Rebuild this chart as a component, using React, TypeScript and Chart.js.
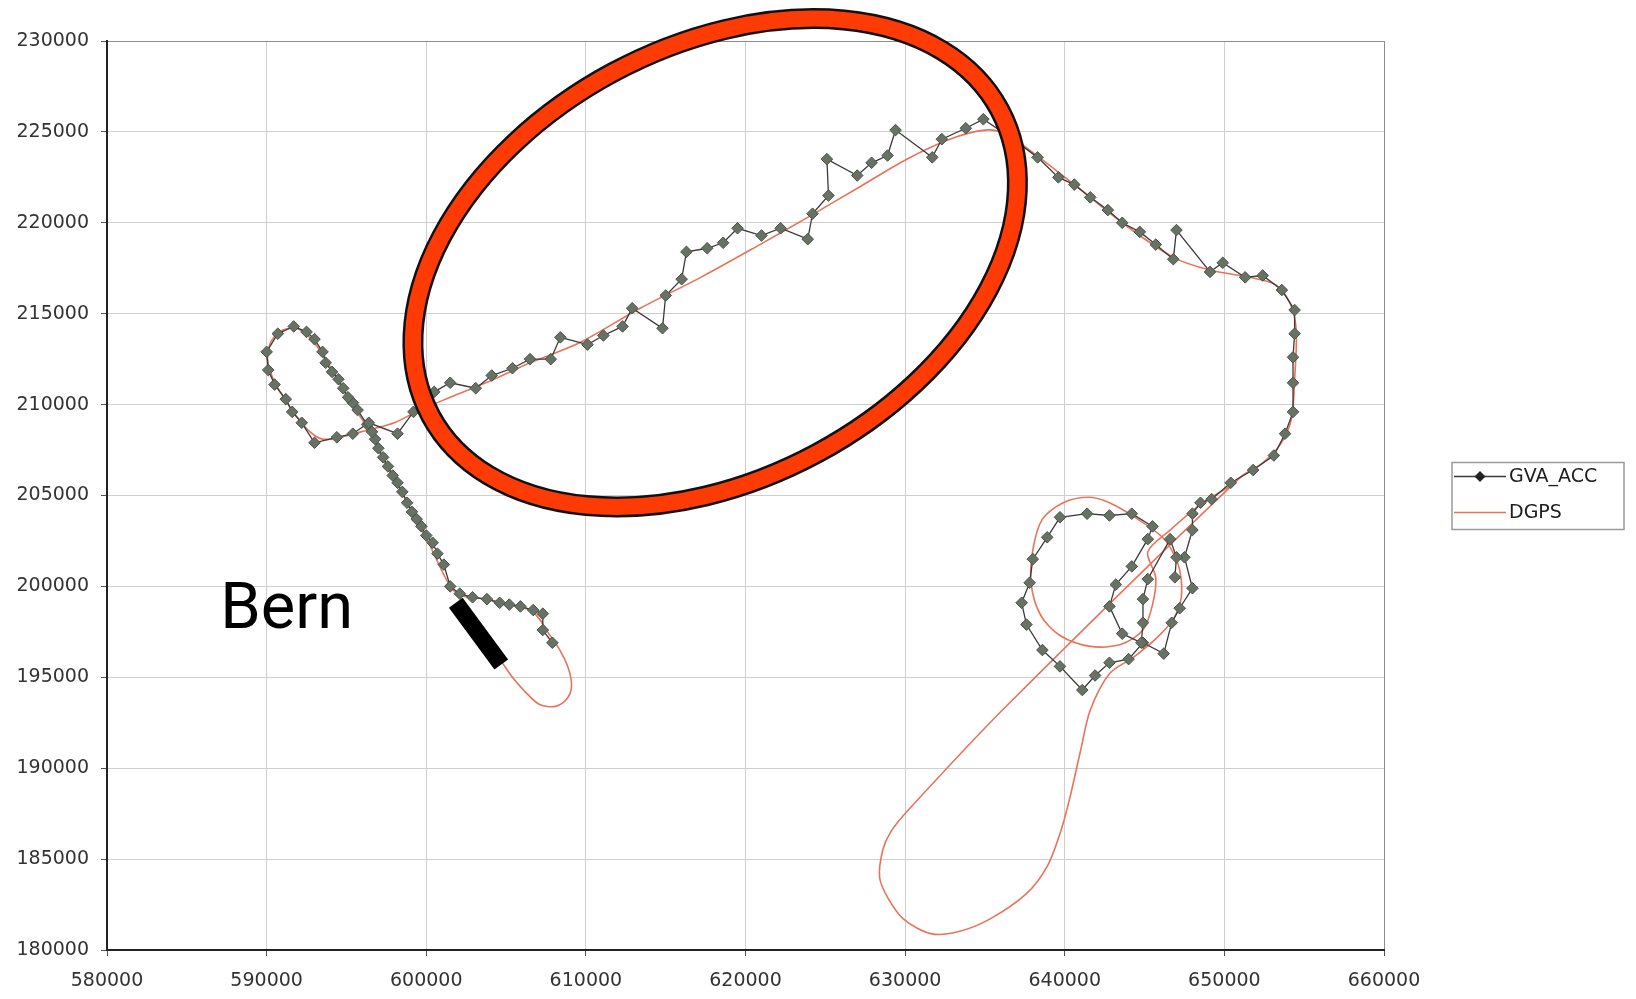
import { useEffect, useRef } from "react";
import { Chart, registerables } from "chart.js";

Chart.register(...registerables);

// ---------- data (Swiss grid coordinates, metres) ----------
const SERIES_NAMES = ["GVA_ACC", "DGPS"];

const GVA_X = [607900, 607300, 607300, 606700, 605900, 605200, 604600, 603800, 602900, 602100, 601500,
  601100, 600700, 600400, 600000, 599700, 599400, 599100, 598800, 598500, 598200, 597900, 597600, 597300, 597000, 596800, 596600, 596300,
  595700, 595400, 595100, 594800, 594500, 594100, 593700, 593500, 593000, 592500, 591700, 590700, 590000, 590100, 590500, 591200, 591600, 592200, 593000, 594400, 595400, 596400,
  598200, 599200, 600500, 601500, 603100, 604100, 605400, 606500, 607800, 608400, 610100, 611100, 612300, 612900, 614800, 615000, 616000, 616300, 617600, 618600, 619500, 621000, 622200, 623900, 624200, 625200, 625100, 627000, 627900, 628900, 629400, 631700, 632300, 633800, 634900,
  636600, 638300, 639600, 640600, 641600, 642700, 643600, 644700, 645700, 646800, 647000, 649100, 649900, 651300, 652400, 653600, 654400, 654400, 654300, 654300, 654300, 653800, 653100, 651800,
  650400, 649200, 648500, 648000, 648000, 647500, 648000, 647200, 646700, 646200, 644900, 644000, 642800, 641900, 641100, 639700, 638600, 637600, 637300, 637800, 638000, 638900, 639700, 641400, 642800, 644200, 645500, 645200, 644200, 643200, 642800, 643600, 644800, 644900, 644900, 645200, 646600, 647000, 646900];

const GVA_Y = [196900, 197600, 198500, 198700, 198900, 199000, 199100, 199300, 199400, 199600, 200000,
  201200, 201800, 202400, 202800, 203300, 203700, 204100, 204600, 205200, 205700, 206100, 206600, 207100, 207600, 208100, 208500, 208900,
  209700, 210100, 210400, 210900, 211400, 211800, 212300, 212900, 213600, 214000, 214300, 213900, 212900, 211900, 211100, 210300, 209600, 209000, 207900, 208200, 208400, 209000,
  208400, 209600, 210700, 211200, 210900, 211600, 212000, 212500, 212500, 213700, 213300, 213800, 214300, 215300, 214200, 216000, 216900, 218400, 218600, 218900, 219700, 219300, 219700, 219100, 220500, 221500, 223500, 222600, 223300, 223700, 225100, 223600, 224600, 225200, 225700,
  224700, 223600, 222500, 222100, 221400, 220700, 220000, 219500, 218800, 218000, 219600, 217300, 217800, 217000, 217100, 216300, 215200, 213900, 212600, 211200, 209600, 208400, 207200, 206400,
  205700, 204800, 204600, 204000, 203100, 201600, 199900, 198800, 198000, 196300, 196900, 196000, 195800, 195100, 194300, 195600, 196500, 197900, 199100, 200200, 201500, 202700, 203800, 204000, 203900, 204000, 203300, 202600, 201100, 200100, 198900, 197400, 196900, 198000, 199300, 200400, 202600, 201600, 200500];

const DGPS_X = [602400, 604600, 605400, 606200, 607100, 608100, 608800, 609100, 608900, 608300,
  607600, 607100, 606500, 605200, 603700, 602200, 601500, 600200, 598700, 597400,
  596500, 595500, 594600, 593700, 592700, 591800, 590800, 590200, 590100, 590700,
  591600, 592600, 593500, 594600, 595900, 596800, 598000, 599600, 601500, 604000,
  606500, 609600, 613400, 617200, 620900, 623900, 627200, 630100, 632800, 635000,
  636300, 637800, 640600, 643600, 646800, 649100, 651600, 653200, 654100, 654500,
  654400, 654200, 653500, 652400, 651000, 636100, 630200, 629100, 628600, 628400,
  628900, 629900, 631600, 633300, 635300, 637600, 638900, 639700, 640300, 641000,
  641600, 642800, 644300, 645800, 646800, 647300, 647200, 646700, 646000, 644400,
  642800, 641500, 639900, 638600, 638000, 637900, 638500, 639700, 641600, 643500,
  644900, 645500, 645700, 645200, 646600, 648500, 650700];

const DGPS_Y = [198600, 196000, 195000, 194200, 193500, 193400, 193800, 194500, 195500, 196600,
  197500, 198200, 198700, 199000, 199300, 199500, 200000, 202300, 204800, 206800,
  208500, 209800, 211100, 212500, 213700, 214200, 214000, 213300, 212200, 210900,
  209700, 208600, 208100, 208200, 208500, 208700, 209000, 209700, 210400, 211300,
  212300, 213400, 215300, 217000, 218800, 220300, 222000, 223500, 224600, 225100,
  224900, 224000, 222100, 220000, 218100, 217400, 217000, 216600, 215600, 214100,
  211400, 209200, 207800, 206800, 206000, 193200, 187700, 186500, 185500, 184000,
  182900, 181700, 180900, 181000, 181700, 183100, 184600, 186400, 188300, 191000,
  193200, 195200, 196100, 197200, 198200, 199400, 200900, 202000, 202800, 203800,
  204600, 204900, 204600, 203700, 202000, 200100, 198400, 197300, 196700, 196800,
  197600, 199000, 200500, 201900, 203100, 204500, 205700];

const X_MIN = 580000;
const X_MAX = 660000;
const X_STEP = 10000;
const Y_MIN = 180000;
const Y_MAX = 230000;
const Y_STEP = 5000;

// annotation anchors (data coordinates)
const ELLIPSE_CENTER = [618100, 217800];
const BAR_START = [601850, 199100];
const BAR_END = [604700, 195700];
const LABEL_TEXT = "Bern";
const LABEL_POS = [587100, 197700];

// ---------- styles ----------
const GVA_LINE = "#3a3a3a";
const GVA_FILL = "#687264";
const GVA_EDGE = "#4a5348";
const DGPS_LINE = "#e8735a";
const GRID = "#cfcfcf";
const EDGE_GRID = "#8c8c8c";
const AXIS = "#222222";
const TICK_FONT = "DejaVu Sans";

const overlayPlugin = {
  id: "overlay",
  afterDraw(chart: any) {
    const { ctx, chartArea, scales } = chart;
    const xs = scales.x;
    const ys = scales.y;
    ctx.save();

    // ellipse annotation
    const cx = xs.getPixelForValue(ELLIPSE_CENTER[0]);
    const cy = ys.getPixelForValue(ELLIPSE_CENTER[1]);
    ctx.beginPath();
    ctx.ellipse(cx, cy, 323, 216, (-28.3 * Math.PI) / 180, 0, Math.PI * 2);
    ctx.strokeStyle = "#111111";
    ctx.lineWidth = 21;
    ctx.stroke();
    ctx.strokeStyle = "#ff3b05";
    ctx.lineWidth = 16;
    ctx.stroke();

    // black bar
    ctx.beginPath();
    ctx.moveTo(xs.getPixelForValue(BAR_START[0]), ys.getPixelForValue(BAR_START[1]));
    ctx.lineTo(xs.getPixelForValue(BAR_END[0]), ys.getPixelForValue(BAR_END[1]));
    ctx.strokeStyle = "#000000";
    ctx.lineWidth = 17;
    ctx.lineCap = "butt";
    ctx.stroke();

    // label
    ctx.font = "65px Roboto";
    ctx.fillStyle = "#000000";
    ctx.textBaseline = "alphabetic";
    ctx.textAlign = "left";
    ctx.fillText(LABEL_TEXT, xs.getPixelForValue(LABEL_POS[0]), ys.getPixelForValue(LABEL_POS[1]));

    // legend box
    const left = chartArea.right + 68;
    const top = (chartArea.top + chartArea.bottom) / 2 - 33;
    const w = 172;
    const h = 67;
    ctx.fillStyle = "#ffffff";
    ctx.fillRect(left, top, w, h);
    ctx.strokeStyle = "#9a9a9a";
    ctx.lineWidth = 1.5;
    ctx.strokeRect(left, top, w, h);

    const rows = [top + 14, top + 50];
    ctx.beginPath();
    ctx.moveTo(left + 2, rows[0]);
    ctx.lineTo(left + 54, rows[0]);
    ctx.strokeStyle = GVA_LINE;
    ctx.lineWidth = 1.5;
    ctx.stroke();
    const dx = left + 28;
    ctx.beginPath();
    ctx.moveTo(dx - 5.5, rows[0]);
    ctx.lineTo(dx, rows[0] - 5.5);
    ctx.lineTo(dx + 5.5, rows[0]);
    ctx.lineTo(dx, rows[0] + 5.5);
    ctx.closePath();
    ctx.fillStyle = "#222222";
    ctx.fill();
    ctx.beginPath();
    ctx.moveTo(left + 2, rows[1]);
    ctx.lineTo(left + 54, rows[1]);
    ctx.strokeStyle = DGPS_LINE;
    ctx.lineWidth = 1.6;
    ctx.stroke();

    ctx.font = `19px "${TICK_FONT}"`;
    ctx.fillStyle = "#1e1e1e";
    ctx.textBaseline = "middle";
    ctx.fillText(SERIES_NAMES[0], left + 57, rows[0] + 1);
    ctx.fillText(SERIES_NAMES[1], left + 57, rows[1] + 1);

    ctx.restore();
  },
};

export default function App() {
  const ref = useRef<HTMLCanvasElement | null>(null);

  useEffect(() => {
    if (!ref.current) return;
    const gva = GVA_X.map((x, i) => ({ x, y: GVA_Y[i] }));
    const dgps = DGPS_X.map((x, i) => ({ x, y: DGPS_Y[i] }));

    const chart = new Chart(ref.current, {
      type: "scatter",
      data: {
        datasets: [
          {
            label: SERIES_NAMES[0],
            data: gva,
            showLine: true,
            borderColor: GVA_LINE,
            borderWidth: 1.3,
            pointStyle: "rectRot",
            pointRadius: 5.8,
            pointBackgroundColor: GVA_FILL,
            pointBorderColor: GVA_EDGE,
            pointBorderWidth: 1,
            tension: 0,
          },
          {
            label: SERIES_NAMES[1],
            data: dgps,
            showLine: true,
            borderColor: DGPS_LINE,
            borderWidth: 1.6,
            pointRadius: 0,
            tension: 0.3,
          },
        ],
      },
      options: {
        responsive: false,
        animation: false,
        devicePixelRatio: 1,
        layout: { padding: { top: 41, right: 252, left: 0, bottom: 0 } },
        plugins: { legend: { display: false }, tooltip: { enabled: false } },
        scales: {
          x: {
            type: "linear",
            min: X_MIN,
            max: X_MAX,
            afterFit: (s: any) => {
              s.height = 49;
            },
            ticks: {
              stepSize: X_STEP,
              padding: 14,
              color: "#333333",
              font: { family: TICK_FONT, size: 19 },
              callback: (v: any) => String(v),
              maxRotation: 0,
            },
            grid: {
              color: (c: any) => (c.tick && c.tick.value === X_MAX ? EDGE_GRID : GRID),
              lineWidth: 1,
              tickLength: 6,
              tickColor: "#555555",
            },
            border: { display: true, color: AXIS, width: 2 },
          },
          y: {
            type: "linear",
            min: Y_MIN,
            max: Y_MAX,
            afterFit: (s: any) => {
              s.width = 107;
            },
            ticks: {
              stepSize: Y_STEP,
              padding: 12,
              color: "#333333",
              font: { family: TICK_FONT, size: 19 },
              callback: (v: any) => String(v),
            },
            grid: {
              color: (c: any) => (c.tick && c.tick.value === Y_MAX ? EDGE_GRID : GRID),
              lineWidth: 1,
              tickLength: 6,
              tickColor: "#555555",
            },
            border: { display: true, color: AXIS, width: 2 },
          },
        },
      },
      plugins: [overlayPlugin],
    });
    return () => chart.destroy();
  }, []);

  return (
    <div style={{ position: "absolute", left: 0, top: 0, width: 1636, height: 999, background: "#ffffff" }}>
      <canvas ref={ref} width={1636} height={999} style={{ width: 1636, height: 999, display: "block" }} />
    </div>
  );
}
